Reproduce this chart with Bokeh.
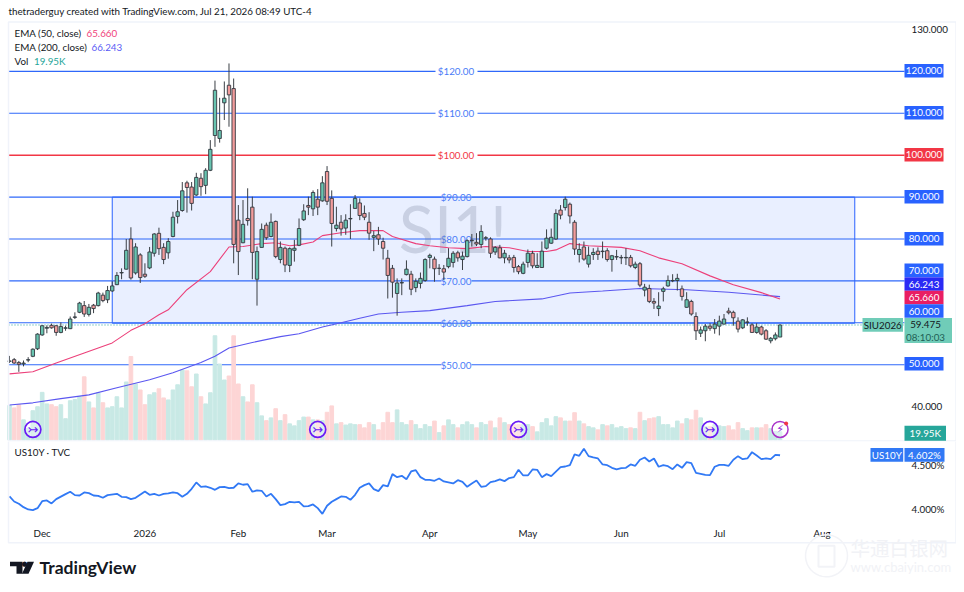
from bokeh.plotting import figure
from bokeh.layouts import column
from bokeh.models import Range1d, FixedTicker, Label, PolyAnnotation
from bokeh.core.properties import value
from bokeh.embed import file_html
from bokeh.resources import INLINE
import numpy as np

opens = [50.8,51.2,50.5,50.2,51.1,52.0,53.8,57.1,58.7,59.4,59.3,57.7,58.7,58.6,61.3,62.5,64.1,62.0,64.2,64.1,
66.6,65.5,67.6,69.1,71.9,72.8,80.0,71.9,76.2,71.6,73.1,76.6,81.35,78.0,76.7,80.6,85.4,86.8,93.4,92.4,
90.5,94.5,92.8,96.4,104.7,104.0,112.5,116.7,115.9,84.5,79.1,84.9,87.6,70.4,78.0,83.3,80.6,84.2,75.1,77.8,
73.7,77.3,78.5,84.6,88.0,87.2,89.5,89.1,96.1,89.7,82.5,84.0,82.6,84.8,87.3,88.6,86.1,84.0,80.4,81.0,
79.4,75.4,73.0,67.0,69.5,71.5,71.6,68.4,69.4,70.1,75.6,75.2,73.0,72.9,73.4,74.4,76.7,75.1,75.8,79.6,
79.2,78.7,80.2,80.0,76.9,77.9,75.5,75.5,75.6,73.4,71.8,74.4,76.6,73.2,73.2,77.8,79.0,80.0,86.9,87.5,
88.3,84.0,76.3,78.1,74.0,76.3,77.1,77.0,77.2,75.1,75.7,75.5,75.5,75.6,73.2,74.1,67.8,68.2,65.1,63.4,
67.5,68.8,70.0,70.1,68.1,63.7,65.1,61.5,57.5,58.1,59.2,58.6,59.2,59.7,62.8,62.5,60.4,58.8,60.1,59.5,
57.7,59.0,58.1,55.7,56.2,56.6]
highs = [52.1,51.6,50.9,51.0,51.8,53.9,57.5,59.4,59.4,59.8,59.4,60.1,59.3,61.5,62.5,65.0,65.2,64.5,64.5,67.4,
67.2,68.8,69.9,72.1,73.0,80.0,82.8,79.0,76.6,74.2,78.1,81.4,82.7,79.0,80.2,86.5,89.3,93.6,93.9,93.6,
95.8,95.7,96.9,103.6,117.8,113.7,117.6,121.9,118.3,88.1,89.3,92.1,90.1,78.2,83.7,83.9,86.1,84.4,79.4,78.2,
78.0,79.8,84.9,88.3,90.1,91.6,91.9,95.0,97.4,91.6,87.7,85.7,85.9,88.3,90.5,89.7,88.0,86.4,81.9,82.9,
80.3,77.4,73.8,70.6,70.6,74.9,72.4,70.6,72.0,75.4,76.5,75.8,74.0,73.8,77.8,77.1,77.2,77.0,79.9,81.2,
81.4,83.3,80.7,80.4,78.3,78.6,77.4,76.2,76.2,73.8,74.6,77.5,77.2,76.6,79.4,82.3,82.5,87.1,88.1,90.1,
88.7,84.5,79.0,79.4,78.2,77.8,78.0,79.4,77.8,76.2,77.4,76.2,77.8,76.2,74.6,74.5,69.3,69.1,65.9,67.3,
68.6,71.3,71.6,71.7,68.9,67.3,65.5,62.5,59.1,59.7,59.9,60.9,61.7,62.1,63.6,62.9,61.3,60.9,61.3,59.9,
59.9,59.3,58.5,56.6,57.7,59.6]
lows = [50.4,50.2,48.3,49.6,50.6,51.8,53.5,56.9,57.5,58.6,56.9,57.5,58.1,58.5,60.9,62.3,61.4,61.5,62.3,63.9,
64.9,64.7,67.4,69.0,70.4,72.7,70.3,71.5,69.5,70.7,72.8,75.8,76.2,74.0,75.3,80.4,83.7,86.5,86.3,86.8,
90.3,90.3,90.7,96.2,102.0,103.0,108.4,106.8,74.2,71.4,79.0,83.2,70.4,64.1,77.9,79.8,80.4,75.4,74.2,72.1,
72.1,74.6,78.3,84.3,85.7,85.5,85.7,88.9,88.1,78.2,81.8,80.8,81.0,80.0,87.2,84.5,84.5,79.8,77.1,78.6,
75.1,65.8,66.0,61.7,66.6,71.3,66.6,67.3,68.2,69.8,73.0,69.8,71.4,70.2,73.0,73.2,74.6,72.6,75.6,78.2,
78.3,77.8,79.6,75.5,76.2,75.4,74.2,74.2,72.0,71.6,71.6,73.2,73.0,73.1,73.1,77.5,78.8,79.8,84.7,86.8,
83.7,76.2,74.4,74.8,73.2,75.0,75.0,75.4,74.6,72.2,75.0,74.0,73.8,73.2,72.8,68.5,66.3,64.7,63.3,61.6,
65.1,68.6,69.7,67.7,65.3,63.6,61.7,55.9,56.6,55.6,58.1,57.4,57.0,59.6,62.0,59.3,57.7,58.5,59.3,57.6,
57.4,57.0,55.9,55.1,55.8,56.6]
closes = [50.9,50.4,50.1,50.4,51.2,53.7,57.3,59.3,58.9,58.8,57.7,59.1,58.8,60.9,61.4,64.7,62.1,63.7,63.4,67.1,
65.3,67.7,68.8,71.3,72.0,77.3,70.7,78.1,70.8,71.1,76.9,81.2,77.7,75.1,79.4,85.2,86.5,91.5,92.3,88.5,
94.7,92.5,96.4,101.4,115.5,105.9,113.6,114.4,78.7,77.0,83.5,84.4,76.8,77.0,82.3,80.3,84.0,75.8,78.0,73.8,
77.7,77.8,82.5,86.7,87.6,91.1,87.6,93.4,89.0,83.7,83.3,82.4,84.5,84.9,89.7,85.6,85.2,81.4,80.8,80.0,
77.8,71.3,69.7,69.5,69.6,72.8,68.0,69.9,70.6,75.1,76.1,72.9,73.0,72.1,75.4,76.6,75.5,75.9,79.6,79.7,
78.8,81.8,80.3,76.6,78.0,75.5,76.6,75.0,73.2,72.2,74.0,76.6,73.6,73.7,77.1,80.2,80.4,86.1,85.7,89.5,
85.5,77.6,77.5,75.2,76.1,76.8,76.3,77.1,75.1,76.0,75.8,75.6,75.6,73.6,74.0,69.0,68.5,65.1,64.7,64.0,
68.1,70.1,70.1,70.6,66.3,65.5,62.1,58.1,58.3,59.2,58.7,59.7,60.4,60.9,62.4,61.2,58.5,60.7,60.2,57.7,
59.0,57.3,56.1,56.3,57.1,59.475]
volumes_k = [86,80,88,50,29,73,83,119,90,88,83,88,53,98,101,108,158,95,80,118,
93,80,83,108,80,145,209,140,125,88,113,118,128,105,100,125,138,175,173,133,
165,108,90,118,261,190,150,160,261,140,108,95,138,93,60,48,55,78,48,63,
40,35,48,57,57,50,50,48,69,85,40,43,37,40,38,38,30,43,38,25,
43,69,43,75,43,38,48,38,28,38,33,47,18,35,50,38,30,38,45,38,
30,43,38,47,30,55,43,38,38,38,38,38,33,20,43,53,35,58,55,47,
47,68,47,40,33,30,25,38,35,38,30,33,28,30,28,69,48,53,55,58,
38,38,30,47,40,53,50,74,55,33,33,38,35,33,35,25,43,28,23,30,
30,30,38,28,21,19.95]
ema50_bar = [0,5,10,16,22,26,29,32,34,38,43,47,50,54,57,60,62,65,67,71,75,80,82,87,90,94,98,102,107,111,115,117,120,124,131,135,139,144,150,155,161,165]
ema50_val = [47.8,48.3,50.4,52.8,55.2,58.2,59.8,61.9,63.1,67.9,72.2,78.1,78.2,78.9,79.1,78.4,78.6,79.3,80.8,81.5,82.0,82.0,80.6,78.9,78.4,77.9,77.7,78.2,77.9,77.0,77.0,77.4,78.9,78.4,78.0,77.2,75.5,74.1,71.2,69.1,67.2,65.66]
ema200_bar = [0,5,11,17,23,30,35,41,44,47,52,58,62,67,71,75,79,84,90,98,104,114,120,127,135,145,154,165]
ema200_val = [40.4,40.9,41.9,42.8,44.5,46.4,48.1,50.5,52.0,54.0,55.3,56.7,57.4,59.0,60.0,61.1,62.1,62.5,62.9,64.1,65.1,65.7,67.1,67.6,68.2,67.9,67.3,66.243]
us10y_bar = [0,1,2,3,4,5,6,7,8,9,10,12,13,14,15,16,17,18,19,20,21,23,24,25,26,27,29,30,31,32,33,34,35,36,37,38,39,40,41,42,43,44,45,46,47,48,49,50,51,52,53,54,55,56,57,58,59,60,61,62,63,64,65,66,
67,68,69,70,71,72,73,74,75,76,77,78,79,80,81,82,83,84,85,86,87,88,89,90,91,92,93,94,95,96,97,98,99,100,101,102,103,104,105,106,107,108,109,110,111,112,113,114,115,116,118,119,120,121,122,123,124,125,126,127,128,129,130,131,132,133,134,135,
136,137,138,139,140,141,142,143,144,145,146,147,148,149,150,151,152,153,154,155,156,157,158,159,160,161,162,163,164,165]
us10y_val = [4.145,4.088,4.062,4.024,3.998,3.991,4.013,4.092,4.100,4.066,4.115,4.171,4.198,4.160,4.156,4.190,4.182,4.156,4.152,4.130,4.160,4.175,4.141,4.137,4.115,4.130,4.201,4.164,4.175,4.156,4.175,4.179,4.190,4.182,4.141,4.175,4.231,4.303,4.254,4.258,4.243,4.220,4.250,4.254,4.239,4.243,4.292,4.277,4.284,4.198,4.213,4.209,4.145,4.175,4.115,4.047,4.058,4.085,4.078,4.085,4.032,4.036,4.055,4.013,
3.949,4.040,4.085,4.115,4.145,4.141,4.107,4.164,4.243,4.273,4.292,4.228,4.205,4.273,4.258,4.397,4.363,4.378,4.340,4.427,4.442,4.363,4.333,4.333,4.322,4.348,4.314,4.303,4.292,4.329,4.310,4.254,4.292,4.325,4.254,4.261,4.307,4.318,4.337,4.318,4.352,4.363,4.446,4.382,4.382,4.450,4.446,4.363,4.397,4.374,4.476,4.483,4.498,4.619,4.604,4.683,4.600,4.585,4.574,4.506,4.498,4.468,4.450,4.465,4.468,4.506,4.491,4.559,
4.585,4.540,4.574,4.480,4.498,4.487,4.453,4.506,4.468,4.532,4.521,4.412,4.401,4.389,4.386,4.480,4.502,4.502,4.491,4.559,4.600,4.566,4.574,4.645,4.608,4.566,4.574,4.566,4.615,4.610]
level_prices = [120,110,90,80,70,60,50]
level_labels = ["$120.00","$110.00","$90.00","$80.00","$70.00","$60.00","$50.00"]
level_gaps = [21,21,15,15,15,15,15]
red_level = 100
month_ticks = [7,29,49,68,90,111,131,152,174]
month_names = ["Dec","2026","Feb","Mar","Apr","May","Jun","Jul","Aug"]
box_bars = (22, 181)
box_prices = (59.9, 90)
event_bars = [5,66,109,150]
last_price = 59.475

FONT = "Lato"
FS = "9.8px"
BLUE = "#2962ff"
INK = "#131722"
GREEN = "#68c4b0"
RED = "#f29c9c"
VGREEN = "#c8e9e5"
VRED = "#fdd5d5"
PX = 4.67
W = 956
DY = -0.7
bx = lambda px: (px - 9) / PX
X_START, X_END = bx(8), bx(904)
x_range = Range1d(bx(0), bx(W))
H1 = 441; H2 = 143
py_price = lambda y: 60 + (323 - y) / 4.19
py_yield = lambda y: 4 + (509.5 - y) / 88.6

p = figure(width=W, height=H1, x_range=x_range, y_range=Range1d(py_price(H1 - DY), py_price(-DY)),
           output_backend="svg", toolbar_location=None, y_axis_location="right", x_axis_location=None,
           min_border=0, background_fill_color="white", border_fill_color="white", outline_line_color=None)
p.grid.visible = False
p.extra_y_ranges["vol"] = Range1d(-2.5 + DY * 2.5, (440 - DY) * 2.5)
ax = p.yaxis[0]
ax.fixed_location = X_END
ax.ticker = FixedTicker(ticks=[40, 130])
ax.major_label_overrides = {40: "40.000", 130: "130.000"}
ax.major_label_text_font = FONT; ax.major_label_text_font_size = FS; ax.major_label_text_color = INK
ax.axis_line_color = None; ax.major_tick_line_color = None; ax.minor_tick_line_color = None
ax.major_tick_out = 0; ax.major_tick_in = 0
ax.major_label_standoff = 7

n = len(opens)
bars = np.arange(n)
up = [c >= o for o, c in zip(opens, closes)]
LC = 456

# box
p.quad(left=[box_bars[0]], right=[box_bars[1]], bottom=[box_prices[0]], top=[box_prices[1]],
       fill_color=BLUE, fill_alpha=0.1, line_color=BLUE, line_width=1, line_alpha=1)
# levels, each broken around its own price text
for lv, g in zip(level_prices, level_gaps):
    p.segment(x0=[X_START, bx(LC + g)], x1=[bx(LC - g), X_END], y0=[lv, lv], y1=[lv, lv],
              line_color="#2f68fa", line_width=1.1)
p.segment(x0=[X_START, bx(LC + 21)], x1=[bx(LC - 21), X_END], y0=[red_level] * 2, y1=[red_level] * 2,
          line_color="#f23645", line_width=1.6)
p.segment(x0=[X_START], x1=[X_END], y0=[last_price], y1=[last_price], line_color="#26a69a", line_width=1, line_dash="1 2")
# level price labels
LX = bx(LC - 0.5)
p.text([LX] * len(level_prices), level_prices, text=level_labels, text_font=value(FONT), text_font_size=FS,
       text_color="#4a7bf7", text_align="center", text_baseline="middle")
p.text([LX], [red_level], text=["$100.00"], text_font=value(FONT), text_font_size=FS,
       text_color="#f23645", text_align="center", text_baseline="middle")
# watermark
p.text([bx(452.5)], [py_price(228)], text=["SI1!"], text_font=value(FONT), text_font_size="65px", text_color="#76819a",
       text_align="center", text_baseline="middle", text_alpha=0.28)
# volumes
p.vbar(x=bars, top=volumes_k, width=0.78, bottom=0, y_range_name="vol",
       color=[VGREEN if u else VRED for u in up])
# emas
p.line(ema200_bar, ema200_val, line_color="#5b57f0", line_width=1.1)
p.line(ema50_bar, ema50_val, line_color="#ec407a", line_width=1.1)
# candles
p.segment(x0=bars, x1=bars, y0=lows, y1=highs, line_color="#3a3f45", line_width=1)
p.vbar(x=bars, width=0.72, top=[max(o, c) for o, c in zip(opens, closes)],
       bottom=[min(o, c) for o, c in zip(opens, closes)],
       fill_color=[GREEN if u else RED for u in up], line_color="#333840", line_width=0.9)
# events
EV_Y = 26
p.scatter(event_bars, [EV_Y] * 4, size=16, y_range_name="vol", fill_color="white", fill_alpha=0.35,
          line_color="#6a1bf5", line_width=1.7)
p.text(event_bars, [EV_Y] * 4, text=["↣"] * 4, y_range_name="vol", text_font=value("DejaVu Sans"),
       text_font_size="13px", text_color="#6a1bf5", text_align="center", text_baseline="middle")
p.scatter([165], [EV_Y], size=16, y_range_name="vol", fill_color="white", fill_alpha=0.35,
          line_color="#a933c9", line_width=1.5)
p.text([165], [EV_Y], text=["⚡"], y_range_name="vol", text_font=value("DejaVu Sans"),
       text_font_size="11px", text_color="#8e24d8", text_align="center", text_baseline="middle")
p.scatter([166.3], [EV_Y + 15], size=4, y_range_name="vol", fill_color="#f23645", line_color=None)


def lab(fig, top, px, py, text, color=INK, size=FS, align="left", font=FONT, style="normal"):
    h = fig.height
    fig.add_layout(Label(x=px, y=h - (py + DY - top), x_units="screen", y_units="screen", text=text, text_color=color,
                         text_font=font, text_font_size=size, text_align=align, text_baseline="middle",
                         text_font_style=style))


def poly(fig, top, pts, fill=None, line=None, width=1):
    h = fig.height
    fig.add_layout(PolyAnnotation(xs=[a for a, b in pts], ys=[h - (b + DY - top) for a, b in pts], xs_units="screen",
                                  ys_units="screen", fill_color=fill, fill_alpha=1 if fill else 0,
                                  line_color=line, line_width=width, line_alpha=1 if line else 0))


def tag(fig, top, x0, x1, y0, y1, text, fill, color="white"):
    poly(fig, top, [(x0, y0), (x1, y0), (x1, y1), (x0, y1)], fill=fill)
    lab(fig, top, (x0 + x1) / 2, (y0 + y1) / 2, text, color=color, align="center")


poly(p, 0, [(8, 22.2), (955.5, 22.2), (955.5, 441.2), (8, 441.2)], line="#f0f3fa", width=1.5)
lab(p, 0, 8, 11.5, "thetraderguy created with TradingView.com, Jul 21, 2026 08:49 UTC-4")
lab(p, 0, 14, 33.5, "EMA (50, close)")
lab(p, 0, 86, 33.5, "65.660", color="#f0427c")
lab(p, 0, 14, 47.5, "EMA (200, close)")
lab(p, 0, 91, 47.5, "66.243", color="#5a5cf5")
lab(p, 0, 14, 61, "Vol")
lab(p, 0, 33.5, 61, "19.95K", color="#26a69a")
# price-scale tags, stacked the way the exchange panel stacks them
tags = [("120.000", 71, BLUE), ("110.000", 113, BLUE), ("100.000", 155, "#f23645"), ("90.000", 197, BLUE),
        ("80.000", 239, BLUE), ("70.000", 270.5, BLUE), ("66.243", 284.2, "#2a2af5"), ("65.660", 297.7, "#e91e63"),
        ("60.000", 311.2, BLUE), ("50.000", 364, BLUE)]
for t, y, c in tags:
    tag(p, 0, 904, 943, y - 6.8, y + 6.8, t, c)
poly(p, 0, [(904, 318.3), (951.5, 318.3), (951.5, 343.3), (904, 343.3)], fill="#70ccb8")
lab(p, 0, 925, 325, "59.475", color=INK, align="center")
lab(p, 0, 925, 337, "08:10:03", color="#215f55", align="center")
tag(p, 0, 862, 902.5, 318.3, 332, "SIU2026", "#70ccb8", color=INK)
tag(p, 0, 904, 945.5, 426, 441, "19.95K", "#26a69a")

# lower pane: frame is the whole canvas so tags beside it and the footer stay visible
q = figure(width=W, height=H2, x_range=x_range, y_range=Range1d(py_yield(441 + H2 - DY), py_yield(441 - DY)),
           output_backend="svg", toolbar_location=None, y_axis_location="right",
           min_border=0, background_fill_color="white", border_fill_color="white", outline_line_color=None)
q.grid.visible = False
q.line(us10y_bar, us10y_val, line_color="#3179f5", line_width=1.8)
ay = q.yaxis[0]
ay.fixed_location = X_END
ay.ticker = FixedTicker(ticks=[4.0, 4.5])
ay.major_label_overrides = {4: "4.000%", 4.5: "4.500%"}
ay.major_label_text_font = FONT; ay.major_label_text_font_size = FS; ay.major_label_text_color = INK
ay.axis_line_color = None; ay.major_tick_line_color = None; ay.minor_tick_line_color = None
ay.major_tick_out = 0; ay.major_tick_in = 0
ay.major_label_standoff = 7
ax2 = q.xaxis[0]
ax2.fixed_location = py_yield(522)
ax2.ticker = FixedTicker(ticks=month_ticks)
ax2.major_label_overrides = {t: m for t, m in zip(month_ticks, month_names)}
ax2.major_label_text_font = FONT; ax2.major_label_text_font_size = FS; ax2.major_label_text_color = INK
ax2.axis_line_color = None; ax2.major_tick_line_color = None; ax2.minor_tick_line_color = None
ax2.major_tick_out = 0; ax2.major_tick_in = 0
ax2.major_label_standoff = 5

T = 441
poly(q, T, [(8, 441), (955.5, 441), (955.5, 543), (8, 543)], line="#f0f3fa", width=1.5)
lab(q, T, 14, 452, "US10Y · TVC")
tag(q, T, 870, 902.7, 448.3, 462, "US10Y", "#3179f5")
tag(q, T, 904, 944, 448.3, 462, "4.602%", "#3179f5")
# footer logo
poly(q, T, [(9.5, 562), (22, 562), (22, 574), (16, 574), (16, 566.5), (9.5, 566.5)], fill=INK)
poly(q, T, [(27, 562), (33.5, 562), (28, 574), (21.5, 574)], fill=INK)
lab(q, T, 24, 564.2, "●", color=INK, size="7px", align="center", font="DejaVu Sans")
lab(q, T, 39, 568, "TradingView", color=INK, size="17.5px", style="bold")
# site watermark
ang = np.linspace(0, 2 * np.pi, 40)
poly(q, T, list(zip(826 + 21 * np.cos(ang), 556 + 21 * np.sin(ang))), line="#f2f3f7", width=1.5)
poly(q, T, [(818, 546), (834, 546), (834, 567), (818, 567)], line="#f2f3f7", width=2)
lab(q, T, 850, 548, "华通白银网", color="#f1f2f6", size="19.5px", font="Noto Sans CJK SC")
lab(q, T, 850, 567, "www.cbaiyin.com", color="#f1f2f6", size="13px")

layout = column(p, q, spacing=0)
open("out.html", "w").write(file_html(layout, INLINE))
